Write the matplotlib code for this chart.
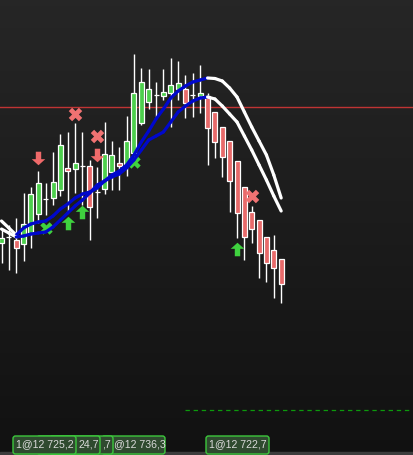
import matplotlib
matplotlib.use("Agg")
import matplotlib.pyplot as plt
import numpy as np
from matplotlib.collections import LineCollection
from matplotlib.patches import Rectangle, FancyBboxPatch
from matplotlib.path import Path

# candles: open, high, low, close
opens = [12735.7, 12736.3, 12736.0, 12735.6, 12736.7, 12738.6, 12740.1, 12740.2, 12741.0, 12743.2,
         12743.1, 12743.4, 12743.4, 12740.8, 12741.1, 12742.8, 12743.7, 12743.6, 12744.7, 12747.7,
         12749.8, 12750.5, 12750.4, 12750.7, 12751.1, 12751.1, 12750.5, 12750.4, 12750.4, 12748.8,
         12747.3, 12745.9, 12743.9, 12741.3, 12738.8, 12738.0, 12736.3, 12735.0, 12734.1]
highs = [12737.1, 12737.5, 12738.2, 12740.7, 12741.3, 12742.9, 12741.7, 12744.8, 12746.6, 12746.8,
         12747.7, 12746.8, 12744.0, 12743.3, 12747.8, 12745.9, 12745.3, 12748.4, 12754.6, 12753.2,
         12753.1, 12751.8, 12753.1, 12754.2, 12753.9, 12752.5, 12752.7, 12753.5, 12750.7, 12748.8,
         12747.3, 12745.9, 12743.9, 12741.3, 12739.4, 12738.0, 12736.3, 12736.5, 12734.1]
lows = [12733.7, 12733.0, 12732.7, 12733.9, 12735.2, 12737.7, 12738.5, 12739.5, 12740.4, 12738.8,
        12740.7, 12739.5, 12736.0, 12738.2, 12740.6, 12741.0, 12741.0, 12742.4, 12744.0, 12747.5,
        12749.1, 12748.3, 12750.0, 12747.3, 12750.0, 12748.2, 12748.3, 12748.7, 12743.5, 12744.2,
        12742.3, 12738.8, 12736.2, 12734.0, 12735.7, 12732.2, 12731.8, 12730.2, 12729.7]
closes = [12736.2, 12736.3, 12735.2, 12737.6, 12740.6, 12741.7, 12740.1, 12741.8, 12745.5, 12742.9,
          12743.7, 12743.4, 12739.3, 12740.8, 12744.6, 12744.5, 12743.4, 12745.9, 12750.7, 12751.8,
          12751.1, 12750.5, 12750.8, 12751.5, 12751.7, 12749.7, 12750.5, 12750.7, 12747.2, 12745.8,
          12744.3, 12741.9, 12738.7, 12736.3, 12737.1, 12734.7, 12733.7, 12733.2, 12731.6]

# two moving averages
ma_fast = [12737.9, 12737.2, 12736.5, 12737.2, 12737.6, 12737.8, 12737.9, 12738.4, 12739.1, 12739.6,
           12740.2, 12740.6, 12740.8, 12741.2, 12741.9, 12742.5, 12742.9, 12743.5, 12744.5, 12745.8,
           12746.9, 12748.1, 12749.1, 12750.2, 12750.9, 12751.4, 12751.8, 12752.0, 12752.2, 12752.15,
           12751.9, 12751.2, 12750.3, 12748.8, 12747.3, 12745.9, 12744.5, 12742.5, 12740.2]
ma_slow = [12737.1, 12736.7, 12736.3, 12736.4, 12736.6, 12736.7, 12736.8, 12737.3, 12738.0, 12738.7,
           12739.4, 12740.0, 12740.7, 12741.5, 12741.9, 12742.3, 12742.6, 12743.2, 12744.0, 12745.0,
           12746.0, 12746.4, 12746.8, 12747.8, 12748.8, 12749.4, 12749.9, 12750.2, 12750.3, 12750.1,
           12749.4, 12748.6, 12747.8, 12746.4, 12745.0, 12743.5, 12742.0, 12740.4, 12738.9]

# signals (bar index, price)
sell_arrows = [(5, 12744.2), (13, 12744.5)]
buy_arrows = [(9, 12737.7), (11, 12738.8), (32, 12735.1)]
red_crosses = [(10, 12748.6), (13, 12746.4), (34, 12740.4)]
green_crosses = [(6, 12737.2), (18, 12743.8)]

red_level = 12749.3
target_level = 12719.0
target_start = 24.9

# order tags, drawn back to front; only the visible part of the covered ones is written
order_labels = ["@12 736,3", ",7", "24,7", "1@12 725,2", "1@12 722,7"]
label_spans = [(101, 166), (49, 114), (36, 101), (12, 77), (205, 270)]
label_text_x = [114, 102, 79, 16, 209]

GREEN = "#4ccf4c"
RED = "#e86a6a"
BLUE = "#0008cc"

fig = plt.figure(figsize=(4.14, 4.55), dpi=100)

# background
bg = fig.add_axes([0, 0, 1, 1], zorder=0)
grad = np.linspace(0.150, 0.068, 256).reshape(-1, 1)
bg.imshow(np.dstack([grad, grad, grad]), aspect="auto", extent=[0, 414, 455, 0])
bg.add_patch(Rectangle((0, 452), 414, 3, color="#3c3c3c"))
bg.set_xlim(0, 414)
bg.set_ylim(455, 0)
bg.axis("off")

ax = fig.add_axes([0, 0, 1, 1], zorder=1)
ax.patch.set_alpha(0)
ax.axis("off")
ax.set_xlim(-0.204, 56.05)
ax.set_ylim(12714.5, 12760.0)

idx = np.arange(len(opens))
ax.axhline(red_level, color="#c03434", lw=1.0, zorder=1)
ax.hlines(target_level, target_start, 57, colors="#0c9a0c", lw=0.9,
          linestyles=(0, (3.5, 3)), zorder=1)

# wicks and bodies
ax.vlines(idx, lows, highs, colors="white", lw=1.0, zorder=2)
w = 0.68
for i, o, c in zip(idx, opens, closes):
    if c > o:
        col = GREEN
    elif c < o:
        col = RED
    else:
        col = "white"
    ax.add_patch(Rectangle((i - w / 2, min(o, c)), w, abs(c - o), facecolor=col,
                           edgecolor="white", lw=0.9, zorder=3))

# signal markers
up = Path([(-0.5, 0.05), (0, 0.5), (0.5, 0.05), (0.2, 0.05), (0.2, -0.5),
           (-0.2, -0.5), (-0.2, 0.05), (-0.5, 0.05)], closed=True)
down = Path([(x, -y) for x, y in up.vertices], closed=True)

def draw(points, marker, color, size):
    xs = [p[0] for p in points]
    ys = [p[1] for p in points]
    ax.scatter(xs, ys, marker=marker, s=size, color=color, linewidths=0, zorder=4)

draw(sell_arrows, down, "#f06a6a", 95)
draw(buy_arrows, up, "#3fd23f", 95)
draw(red_crosses, "X", "#f07272", 95)
draw(green_crosses, "X", "#3fd23f", 80)

# moving averages, blue when rising, white when falling
for ma in (ma_fast, ma_slow):
    pts = np.column_stack([idx, ma])
    segs = np.stack([pts[:-1], pts[1:]], axis=1)
    cols = [BLUE if b > a else "white" for a, b in zip(ma[:-1], ma[1:])]
    lc = LineCollection(segs, colors=cols, linewidths=2.3, capstyle="round",
                        joinstyle="round", zorder=5)
    ax.add_collection(lc)

# order labels at the bottom
ov = fig.add_axes([0, 0, 1, 1], zorder=2)
ov.patch.set_alpha(0)
ov.set_xlim(0, 414)
ov.set_ylim(455, 0)
ov.axis("off")
for k, (txt, (x0, x1), tx) in enumerate(zip(order_labels, label_spans, label_text_x)):
    box = FancyBboxPatch((x0 + 1, 436), x1 - x0 - 2, 18,
                         boxstyle="round,pad=0,rounding_size=2.5",
                         facecolor="#2f4a2f", edgecolor="#3cc83c", lw=1.0, zorder=10 + 2 * k)
    ov.add_patch(box)
    t = ov.text(tx, 444.5, txt, color="#dadada", fontsize=7.6,
                family="Liberation Sans", va="center", ha="left", zorder=11 + 2 * k)
    t.set_clip_path(box)

fig.savefig("out.png", dpi=100)
